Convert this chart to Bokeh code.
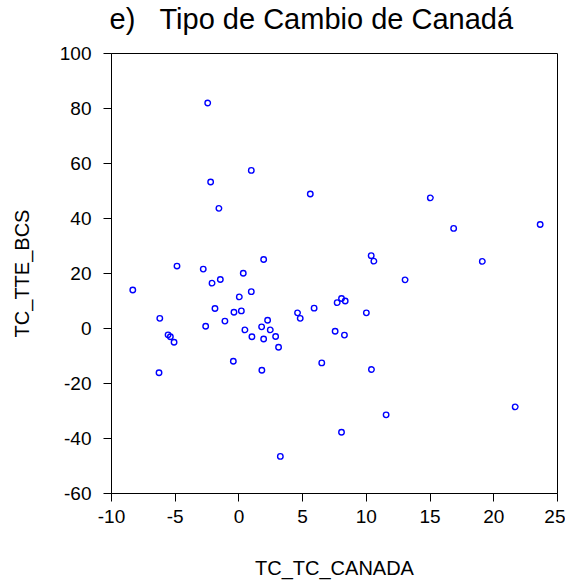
from bokeh.plotting import figure
from bokeh.models import FixedTicker, Title
from bokeh.embed import file_html
from bokeh.resources import INLINE

tc_canada = [-2.45, 0.97, -2.22, 5.6, -1.57, 1.94, -4.86, -2.8, 15.02, 16.85,
             23.64, 10.38, 10.59, 19.1, -8.33, 0.34, -2.11, -1.46, 0.97, 0.03,
             -6.21, -1.88, -0.39, 0.19, -1.1, -2.61, 4.6, 4.81, 5.9, 2.25,
             1.78, 2.46, 0.47, -5.56, -5.38, -5.09, 1.02, 1.94, 2.88, 3.11,
             -0.44, 1.8, -6.27, 3.25, 13.04, 8.05, 7.71, 8.34, 10.0, 7.55,
             8.28, 6.5, 10.4, 21.68, 11.55, 8.05]
tc_tte_bcs = [82.0, 57.5, 53.3, 48.9, 43.7, 25.1, 22.7, 21.6, 47.5, 36.4,
              37.8, 26.5, 24.5, 24.4, 14.0, 20.1, 16.5, 17.8, 13.4, 11.5,
              3.7, 7.3, 5.9, 6.4, 2.7, 0.8, 5.7, 3.7, 7.4, 3.0,
              0.6, -0.5, -0.5, -2.3, -3.0, -5.0, -3.0, -3.8, -2.9, -6.8,
              -11.9, -15.2, -16.1, -46.5, 17.7, 10.9, 9.4, 10.0, 5.7, -1.0,
              -2.4, -12.5, -14.9, -28.5, -31.4, -37.7]
x_ticks = [-10, -5, 0, 5, 10, 15, 20, 25]
y_ticks = [-60, -40, -20, 0, 20, 40, 60, 80, 100]
title_text = "e)\u00a0\u00a0\u00a0Tipo de Cambio de Canadá"

FONT = "Liberation Sans"

p = figure(frame_width=446, frame_height=440,
           x_range=(-10, 25), y_range=(-60, 100),
           output_backend="svg", toolbar_location=None,
           min_border_left=111, min_border_right=8,
           min_border_top=53, min_border_bottom=91,
           title=None)

# thin spacer between frame and title (added first: nearest the frame)
p.add_layout(Title(text="\u00a0", text_font_size="1px", standoff=16), "above")
p.add_layout(Title(text=title_text, text_font=FONT, text_font_size="29px",
                   text_font_style="normal", text_color="black",
                   align="left", offset=-2, standoff=0,
                   vertical_align="bottom"), "above")

p.xgrid.visible = False
p.ygrid.visible = False
p.outline_line_color = "black"
p.outline_line_width = 1
p.outline_line_alpha = 1

p.xaxis.ticker = FixedTicker(ticks=x_ticks)
p.yaxis.ticker = FixedTicker(ticks=y_ticks)
p.xaxis.major_label_overrides = {t: str(t) for t in x_ticks}
p.yaxis.major_label_overrides = {t: str(t) for t in y_ticks}
p.xaxis.axis_label = "TC_TC_CANADA"
p.yaxis.axis_label = "TC_TTE_BCS"

for ax in (p.xaxis, p.yaxis):
    ax.axis_line_color = "black"
    ax.major_tick_line_color = "black"
    ax.major_tick_out = 8
    ax.major_tick_in = 0
    ax.minor_tick_line_color = None
    ax.major_label_text_font = FONT
    ax.major_label_text_font_size = "19px"
    ax.major_label_text_color = "black"
    ax.axis_label_text_font = FONT
    ax.axis_label_text_font_size = "20px"
    ax.axis_label_text_font_style = "normal"
    ax.axis_label_text_color = "black"

p.xaxis.major_label_standoff = 8
p.yaxis.major_label_standoff = 12
p.xaxis.axis_label_standoff = 31
p.yaxis.axis_label_standoff = 24

p.scatter(tc_canada, tc_tte_bcs, marker="circle", size=5.5,
          fill_color=None, line_color="#0000ff", line_width=1.4)

open("out.html", "w").write(file_html(p, INLINE))
